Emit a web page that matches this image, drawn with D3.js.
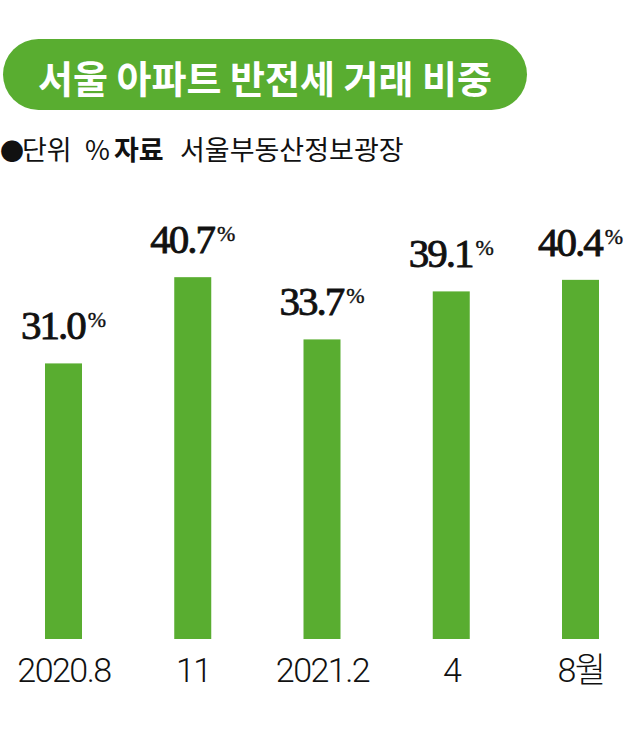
<!DOCTYPE html>
<html>
<head>
<meta charset="utf-8">
<script src="https://cdn.jsdelivr.net/npm/d3@7"></script>
<style>
  html, body { margin: 0; padding: 0; background: #fff; }
  svg { display: block; }
</style>
</head>
<body>
<script>
const title = "서울 아파트 반전세 거래 비중";
const categories = ["2020.8", "11", "2021.2", "4", "8월"];
const values = [31.0, 40.7, 33.7, 39.1, 40.4];
const valueLabels = ["31.0", "40.7", "33.7", "39.1", "40.4"];
const subtitleParts = [
  { t: "●", x: 0, w: 400, s: 24 },
  { t: "단위", x: 22, w: 400, s: 27 },
  { t: "%", x: 85, w: 400, s: 27 },
  { t: "자료", x: 114, w: 700, s: 27 },
  { t: "서울부동산정보광장", x: 180, w: 400, s: 27 }
];

const W = 640, H = 737;
const green = "#59ad30";

const svg = d3.select("body").append("svg")
  .attr("width", W).attr("height", H);

// Title banner
svg.append("rect")
  .attr("x", 3).attr("y", 39)
  .attr("width", 524).attr("height", 71)
  .attr("rx", 35.5).attr("ry", 35.5)
  .attr("fill", green);

svg.append("text")
  .attr("x", 38).attr("y", 76)
  .attr("dominant-baseline", "central")
  .attr("font-family", "'Noto Sans CJK KR', 'Noto Sans', sans-serif")
  .attr("font-weight", 700)
  .attr("font-size", 38)
  .attr("fill", "#fff")
  .text(title);

// Subtitle
const sub = svg.append("text")
  .attr("y", 160)
  .attr("font-family", "'Noto Sans CJK KR', sans-serif")
  .attr("fill", "#111");
subtitleParts.forEach(p => {
  sub.append("tspan")
    .attr("x", p.x)
    .attr("font-size", p.s)
    .attr("font-weight", p.w)
    .text(p.t);
});

// Scales
const x = d3.scalePoint().domain(categories).range([63.5, 580.5]);
const y = d3.scaleLinear().domain([0, 45]).range([639, 639 - 45 * 8.89]);
const barW = 37;

const data = categories.map((c, i) => ({ c, v: values[i], lab: valueLabels[i] }));

svg.append("g").selectAll("rect")
  .data(data).join("rect")
  .attr("x", d => x(d.c) - barW / 2)
  .attr("y", d => y(d.v))
  .attr("width", barW)
  .attr("height", d => y(0) - y(d.v))
  .attr("fill", green);

// Value labels
const vl = svg.append("g").selectAll("text")
  .data(data).join("text")
  .attr("x", d => x(d.c))
  .attr("y", d => y(d.v) - 24)
  .attr("text-anchor", "middle")
  .attr("font-family", "'Liberation Serif', 'DejaVu Serif', serif")
  .attr("font-weight", 400)
  .attr("font-size", 41)
  .attr("letter-spacing", -2)
  .attr("fill", "#111")
  .attr("stroke", "#111")
  .attr("stroke-width", 0.9);
vl.append("tspan").text(d => d.lab);
vl.append("tspan")
  .attr("font-size", 22)
  .attr("dx", 3)
  .attr("dy", -12)
  .attr("letter-spacing", 0)
  .attr("stroke-width", 0.4)
  .text("%");

// Axis labels
const axis = d3.axisBottom(x).tickSize(0).tickPadding(0);
const ag = svg.append("g").attr("transform", `translate(0, 682)`).call(axis);
ag.select(".domain").remove();
ag.selectAll("text")
  .attr("dy", 0)
  .attr("y", 0)
  .attr("font-family", "Roboto, 'Noto Sans CJK KR', sans-serif")
  .attr("font-weight", 300)
  .attr("font-size", 34)
  .attr("letter-spacing", -1.5)
  .attr("fill", "#111");
</script>
</body>
</html>
